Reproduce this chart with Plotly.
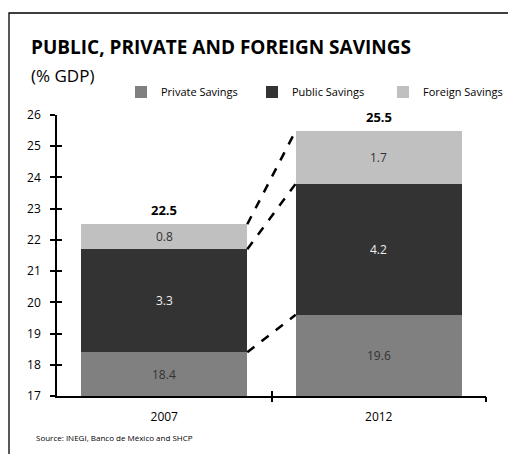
import plotly.graph_objects as go

# Data (% of GDP)
years = ["2007", "2012"]
private_savings = [18.4, 19.6]
public_savings = [3.3, 4.2]
foreign_savings = [0.8, 1.7]
totals = [22.5, 25.5]
y_ticks = list(range(17, 27))

series = [
    ("Private Savings", private_savings, "#808080", "#333333"),
    ("Public Savings", public_savings, "#333333", "#eeeeee"),
    ("Foreign Savings", foreign_savings, "#c0c0c0", "#333333"),
]

W, H = 508, 454
L, R, T, B = 57, 22, 115, 58
Y_MIN, Y_MAX = 17, 26
BAR_W = 0.774
FONT = "Open Sans"

def px_x(p):
    return (p - L) / (W - L - R)

def px_y(p):
    return (H - B - p) / (H - T - B)

xs = list(range(len(years)))
fig = go.Figure()
annotations = []
bases = [0.0] * len(years)
tops_by_series = []
for name, vals, color, txt in series:
    fig.add_trace(go.Bar(
        x=xs, y=vals, base=bases[:], name=name, width=BAR_W,
        marker=dict(color=color, line=dict(width=0)),
        hoverinfo="skip",
    ))
    tops = []
    for i, v in enumerate(vals):
        lo = max(bases[i], Y_MIN)
        hi = bases[i] + v
        annotations.append(dict(
            x=xs[i], y=(lo + hi) / 2, xref="x", yref="y", text=f"{v:.1f}",
            showarrow=False, font=dict(family=FONT, size=12, color=txt),
        ))
        tops.append(hi)
        bases[i] = hi
    tops_by_series.append(tops)

for i, t in enumerate(totals):
    annotations.append(dict(
        x=xs[i], y=t, xref="x", yref="y", text=f"<b>{t:.1f}</b>",
        showarrow=False, yanchor="bottom", yshift=3,
        font=dict(family=FONT, size=13, color="#000000"),
    ))

shapes = []
# dashed connectors between the segment tops of consecutive bars
for tops in tops_by_series:
    for i in range(len(years) - 1):
        shapes.append(dict(
            type="line", xref="x", yref="y",
            x0=xs[i] + BAR_W / 2, y0=tops[i],
            x1=xs[i + 1] - BAR_W / 2, y1=tops[i + 1],
            line=dict(color="#000000", width=2.5, dash="dash"),
        ))

# outer frame (open on the right and bottom)
shapes.append(dict(
    type="rect", xref="paper", yref="paper", layer="below",
    x0=px_x(9), y0=px_y(470), x1=px_x(530), y1=px_y(13),
    line=dict(color="#000000", width=1.3), fillcolor="rgba(0,0,0,0)",
))

annotations += [
    dict(text="<b>PUBLIC, PRIVATE AND FOREIGN SAVINGS</b>", xref="paper", yref="paper",
         x=px_x(29), y=px_y(47), xanchor="left", yanchor="middle", showarrow=False,
         font=dict(family=FONT, size=19, color="#000000")),
    dict(text="(% GDP)", xref="paper", yref="paper",
         x=px_x(29), y=px_y(75), xanchor="left", yanchor="middle", showarrow=False,
         font=dict(family=FONT, size=17, color="#000000")),
    dict(text="Source: INEGI, Banco de México and SHCP", xref="paper", yref="paper",
         x=px_x(34), y=px_y(437), xanchor="left", yanchor="middle", showarrow=False,
         font=dict(family=FONT, size=8, color="#000000")),
]

axis_common = dict(showgrid=False, zeroline=False, fixedrange=True)

fig.update_layout(
    width=W, height=H,
    margin=dict(l=L, r=R, t=T, b=B, autoexpand=False),
    paper_bgcolor="#ffffff", plot_bgcolor="#ffffff",
    barmode="overlay", bargap=0,
    font=dict(family=FONT, size=12, color="#000000"),
    showlegend=True,
    legend=dict(orientation="h", x=px_x(121), y=px_y(92), xanchor="left", yanchor="middle",
                font=dict(family=FONT, size=11, color="#000000"),
                entrywidth=86, entrywidthmode="pixels", bgcolor="rgba(0,0,0,0)",
                traceorder="normal"),
    xaxis=dict(range=[-0.5, len(years) - 0.5], tickmode="array", tickvals=xs, ticktext=years,
               ticks="", showline=True, linecolor="#000000", linewidth=1.5,
               ticklabelstandoff=9, tickfont=dict(size=12), **axis_common),
    xaxis2=dict(range=[-0.5, len(years) - 0.5], overlaying="x", tickmode="array",
                tickvals=[x + 0.5 for x in xs], ticks="outside", ticklen=5, tickwidth=1.5,
                tickcolor="#000000", showticklabels=False, showline=False, **axis_common),
    xaxis3=dict(range=[-0.5, len(years) - 0.5], overlaying="x", tickmode="array",
                tickvals=[x + 0.5 for x in xs], ticks="inside", ticklen=5, tickwidth=1.5,
                tickcolor="#000000", showticklabels=False, showline=False, **axis_common),
    yaxis=dict(range=[Y_MIN, Y_MAX], tickmode="array", tickvals=y_ticks,
               ticks="outside", ticklen=5, tickwidth=1.5, tickcolor="#000000",
               showline=True, linecolor="#000000", linewidth=1.5,
               ticklabelstandoff=7, tickfont=dict(size=12), **axis_common),
    yaxis2=dict(range=[Y_MIN, Y_MAX], overlaying="y", tickmode="array", tickvals=y_ticks,
                ticks="inside", ticklen=5, tickwidth=1.5, tickcolor="#000000",
                showticklabels=False, showline=False, **axis_common),
    shapes=shapes,
    annotations=annotations,
)

# invisible traces anchor the overlay axes so they get drawn
fig.add_trace(go.Scatter(x=[None], y=[None], xaxis="x2", yaxis="y2", showlegend=False, hoverinfo="skip"))
fig.add_trace(go.Scatter(x=[None], y=[None], xaxis="x3", yaxis="y", showlegend=False, hoverinfo="skip"))

fig.write_html("out.html")
